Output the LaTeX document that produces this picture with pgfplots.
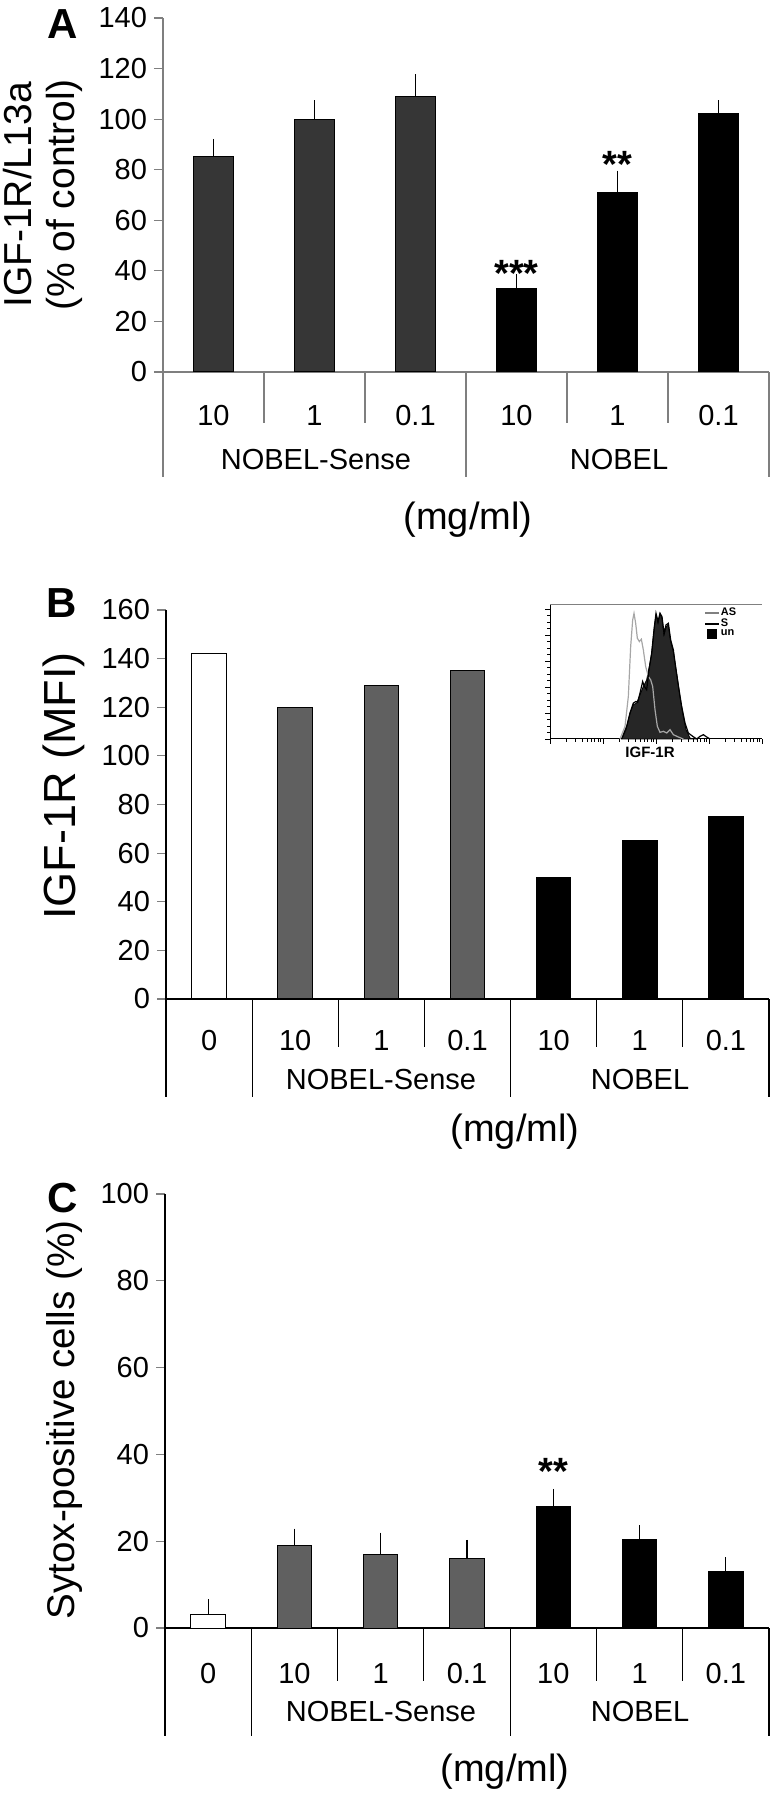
\documentclass[border=0pt]{standalone}
\usepackage{fontspec}
\setmainfont{Liberation Sans}
\usepackage{pgfplots}
\pgfplotsset{compat=1.18}
\definecolor{gA}{HTML}{363636}
\definecolor{gB}{HTML}{606060}
\definecolor{axg}{HTML}{7F7F7F}
\newcommand{\fz}[2]{\fontsize{#1bp}{#2bp}\selectfont}
\pgfplotsset{
  panel/.style={
    scale only axis, anchor=south west,
    axis x line=bottom, axis y line=left,
    axis line style={-, line width=0.6bp},
    enlargelimits=false, clip=false,
    ymin=0,
    tick align=outside,
    major tick length=4.5bp,
    ytick style={line width=0.6bp},
    xtick style={draw=none},
    yticklabel style={font=\fz{14.5}{14.5}},
    xticklabel style={font=\fz{14.5}{14.5}, anchor=center, yshift=-17.5bp},
    /pgf/number format/assume math mode=true,
    every axis plot/.append style={ybar, bar width=0.4, bar shift=0pt, line width=0.5bp},
  },
  ebar/.style={error bars/.cd, y dir=plus, y explicit,
    error bar style={black, line width=0.6bp},
    error mark options={black, line width=0.6bp, mark size=3bp}},
  shortline/.style={legend image code/.code={\draw[##1] (0bp,0bp) -- (7bp,0bp);}},
  sqbox/.style={legend image code/.code={\fill[##1] (1bp,-2.2bp) rectangle (5.5bp,2.2bp);}},
}
\begin{document}
\begin{tikzpicture}
\path[use as bounding box] (0bp,0bp) rectangle (387bp,900bp);

% ---------------- Panel A ----------------
\begin{axis}[panel, at={(81.5bp,714bp)}, width=303bp, height=177bp,
  xmin=0.5, xmax=6.5, ymax=140, ytick={0,20,...,140},
  axis line style={axg}, ytick style={axg},
  xtick={1,...,6}, xticklabels={10,1,0.1,10,1,0.1}]
\addplot[fill=gA, draw=black, ebar] coordinates {(1,85.2) +- (0,4.6) (2,99.7) +- (0,5.3) (3,109.1) +- (0,6.2)};
\addplot[fill=black, draw=black, ebar] coordinates {(4,32.9) +- (0,3.4) (5,70.8) +- (0,6.5) (6,102.2) +- (0,2.8)};
\node[font=\bfseries\fz{19}{19}] at (axis cs:4,41) [yshift=-2.5bp] {***};
\node[font=\bfseries\fz{19}{19}] at (axis cs:5,84) [yshift=-2.5bp] {**};
\draw[axg, line width=0.6bp] (axis cs:0.5,0) -- ++(0bp,-52.5bp);
\draw[axg, line width=0.6bp] (axis cs:1.5,0) -- ++(0bp,-25.5bp);
\draw[axg, line width=0.6bp] (axis cs:2.5,0) -- ++(0bp,-25.5bp);
\draw[axg, line width=0.6bp] (axis cs:3.5,0) -- ++(0bp,-52.5bp);
\draw[axg, line width=0.6bp] (axis cs:4.5,0) -- ++(0bp,-25.5bp);
\draw[axg, line width=0.6bp] (axis cs:5.5,0) -- ++(0bp,-25.5bp);
\draw[axg, line width=0.6bp] (axis cs:6.5,0) -- ++(0bp,-52.5bp);
\end{axis}
\node[font=\bfseries\fz{21}{21}] at (31.5bp,888bp) {A};
\node[rotate=90, align=center, font=\fz{19.5}{21.5}] at (21.5bp,802.5bp) {IGF-1R/L13a\\(\% of control)};
\node[font=\fz{14.5}{15}] at (158bp,670bp) {NOBEL-Sense};
\node[font=\fz{14.5}{15}] at (309.5bp,670bp) {NOBEL};
\node[font=\fz{19}{20}] at (234bp,640bp) {(mg/ml)};

% ---------------- Panel B ----------------
\begin{axis}[panel, at={(83bp,400.5bp)}, width=301.5bp, height=194.5bp,
  xmin=0.5, xmax=7.5, ymax=160, ytick={0,20,...,160},
  xtick={1,...,7}, xticklabels={0,10,1,0.1,10,1,0.1},
  xticklabel style={yshift=1bp}]
\addplot[fill=white, draw=black] coordinates {(1,142.3)};
\addplot[fill=gB, draw=black] coordinates {(2,120.0) (3,129.0) (4,135.3)};
\addplot[fill=black, draw=black] coordinates {(5,50.0) (6,65.2) (7,75.2)};
\draw[line width=0.6bp] (axis cs:0.5,0) -- ++(0bp,-49bp);
\draw[line width=0.6bp] (axis cs:1.5,0) -- ++(0bp,-49bp);
\draw[line width=0.6bp] (axis cs:2.5,0) -- ++(0bp,-24bp);
\draw[line width=0.6bp] (axis cs:3.5,0) -- ++(0bp,-24bp);
\draw[line width=0.6bp] (axis cs:4.5,0) -- ++(0bp,-49bp);
\draw[line width=0.6bp] (axis cs:5.5,0) -- ++(0bp,-24bp);
\draw[line width=0.6bp] (axis cs:6.5,0) -- ++(0bp,-24bp);
\draw[line width=0.6bp] (axis cs:7.5,0) -- ++(0bp,-49bp);
\end{axis}
\node[font=\bfseries\fz{21}{21}] at (31bp,598.5bp) {B};
\node[rotate=90, font=\fz{22.5}{23}] at (32bp,507bp) {IGF-1R (MFI)};
\node[font=\fz{14.5}{15}] at (190.5bp,360bp) {NOBEL-Sense};
\node[font=\fz{14.5}{15}] at (320bp,360bp) {NOBEL};
\node[font=\fz{19}{20}] at (257.5bp,334bp) {(mg/ml)};

% ---------------- Inset ----------------
\begin{axis}[at={(275bp,530.5bp)}, anchor=south west, scale only axis,
  width=106bp, height=67bp, xmin=150, xmax=786, ymin=0, ymax=403,
  axis x line*=bottom, axis y line*=left, axis line style={-, line width=0.5bp},
  tick align=outside, major tick length=2.5bp, minor tick length=1.3bp,
  every tick/.style={line width=0.4bp, black},
  xtick={150,309,468,627,786}, xticklabels={},
  minor xtick={198,226,246,261,274,284,294,302,357,385,405,420,433,443,453,461,516,544,564,579,592,602,612,620,675,703,723,738,751,761,771,779},
  ytick={0,78,156,234,312,390}, yticklabels={}, minor y tick num=3,
  clip=false,
  legend style={at={(axis cs:612,400)}, anchor=north west, draw=none, fill=none,
    font=\bfseries\fz{5.5}{5.5}, inner sep=0pt, row sep=-1pt,
    nodes={inner sep=0.6pt}},
  legend cell align=left]
\addlegendimage{gray, line width=0.6bp, shortline}
\addlegendentry{AS}
\addlegendimage{black, line width=0.6bp, shortline}
\addlegendentry{S}
\addlegendimage{black, sqbox}
\addlegendentry{un}
\addplot[fill=black!85, draw=black, line width=0.4bp, forget plot] coordinates {
(365,0) (378,28) (390,78) (400,103) (410,108) (420,133) (430,158) (440,178) (448,218) (455,258) (463,338) (468,373) (474,348) (480,378) (486,363) (492,313) (499,338) (505,343) (512,293) (520,263) (530,198) (540,128) (548,78) (558,28) (570,3) (580,0)} \closedcycle;
\addplot[gray!70, line width=0.6bp, forget plot] coordinates {
(360,0) (375,38) (385,128) (392,278) (398,358) (402,378) (407,348) (412,303) (418,293) (424,300) (430,268) (437,218) (445,188) (452,178) (458,158) (465,88) (472,38) (480,20) (490,23) (500,18) (510,28) (520,13) (535,6) (550,0)};
\addplot[black, line width=0.6bp, forget plot] coordinates {
(365,0) (380,38) (390,78) (400,108) (408,113) (413,110) (420,138) (428,173) (433,158) (440,148) (447,208) (455,258) (462,328) (468,378) (474,353) (480,378) (486,368) (492,318) (498,343) (505,348) (512,298) (520,268) (528,208) (537,148) (545,98) (555,48) (565,18) (578,8) (590,0) (600,8) (610,13) (620,6) (630,0)};
\draw[gray, line width=0.5bp] (rel axis cs:0,1) -- (rel axis cs:1,1);
\end{axis}
\node[font=\bfseries\fz{7.5}{8}] at (325bp,524bp) {IGF-1R};

% ---------------- Panel C ----------------
\begin{axis}[panel, at={(82.5bp,86bp)}, width=302bp, height=217bp,
  xmin=0.5, xmax=7.5, ymax=100, ytick={0,20,...,100},
  xtick={1,...,7}, xticklabels={0,10,1,0.1,10,1,0.1},
  xticklabel style={yshift=-1bp}]
\addplot[fill=white, draw=black, ebar] coordinates {(1,3.2) +- (0,2.0)};
\addplot[fill=gB, draw=black, ebar] coordinates {(2,19.1) +- (0,2.4) (3,17.0) +- (0,3.6) (4,16.0) +- (0,2.9)};
\addplot[fill=black, draw=black, ebar] coordinates {(5,27.9) +- (0,2.8) (6,20.4) +- (0,1.9) (7,13.1) +- (0,1.8)};
\node[font=\bfseries\fz{19}{19}] at (axis cs:5,37.2) [yshift=-2.5bp] {**};
\draw[line width=0.6bp] (axis cs:0.5,0) -- ++(0bp,-54bp);
\draw[line width=0.6bp] (axis cs:1.5,0) -- ++(0bp,-54bp);
\draw[line width=0.6bp] (axis cs:2.5,0) -- ++(0bp,-26.5bp);
\draw[line width=0.6bp] (axis cs:3.5,0) -- ++(0bp,-26.5bp);
\draw[line width=0.6bp] (axis cs:4.5,0) -- ++(0bp,-54bp);
\draw[line width=0.6bp] (axis cs:5.5,0) -- ++(0bp,-26.5bp);
\draw[line width=0.6bp] (axis cs:6.5,0) -- ++(0bp,-26.5bp);
\draw[line width=0.6bp] (axis cs:7.5,0) -- ++(0bp,-54bp);
\end{axis}
\node[font=\bfseries\fz{21}{21}] at (31.5bp,301bp) {C};
\node[rotate=90, font=\fz{19.3}{20}] at (32.5bp,190bp) {Sytox-positive cells (\%)};
\node[font=\fz{14.5}{15}] at (190.5bp,44bp) {NOBEL-Sense};
\node[font=\fz{14.5}{15}] at (320bp,44bp) {NOBEL};
\node[font=\fz{19}{20}] at (252.5bp,14bp) {(mg/ml)};
\end{tikzpicture}
\end{document}
